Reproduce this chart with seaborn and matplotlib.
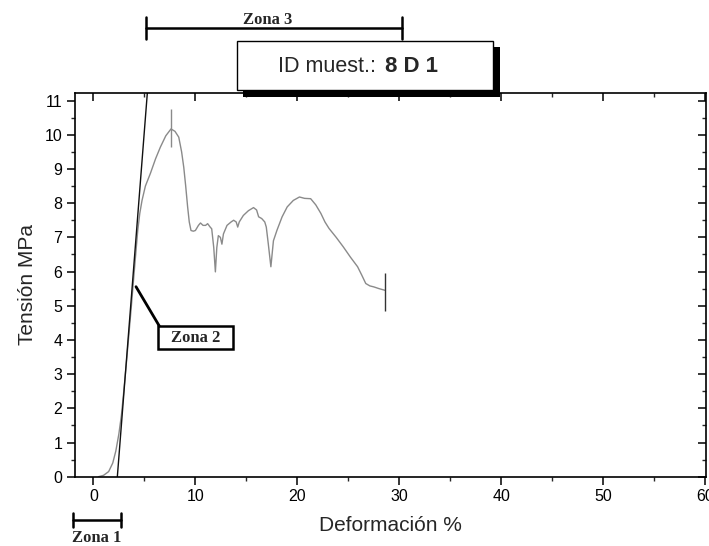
import matplotlib

matplotlib.use("Agg")
import matplotlib.pyplot as plt
import matplotlib.transforms as mtransforms
from matplotlib.patches import Rectangle
from matplotlib.ticker import MultipleLocator
import pandas as pd
import seaborn as sns

# Stress-strain curve
strain = [
    0.5, 1.0, 1.5, 1.9, 2.2, 2.5, 2.75, 2.95, 3.2, 3.45, 3.7, 3.95, 4.15, 4.35, 4.55,
    4.77, 5.1, 5.59, 6.1, 6.57, 7.1, 7.61, 8.0, 8.37, 8.65, 8.86, 9.05, 9.24, 9.4, 9.57,
    9.8, 10.0, 10.3, 10.5, 10.75, 11.0, 11.2, 11.45, 11.6, 11.8, 11.96, 12.1, 12.25,
    12.45, 12.6, 12.75, 13.1, 13.5, 13.75, 14.0, 14.15, 14.3, 14.7, 15.2, 15.7, 16.0,
    16.2, 16.5, 16.8, 16.95, 17.15, 17.4, 17.65, 18.0, 18.5, 19.0, 19.6, 20.2, 20.7,
    21.3, 21.8, 22.3, 22.7, 23.1, 23.8, 24.5, 25.2, 25.9, 26.3, 26.7, 27.1, 27.5, 28.0,
    28.6,
]
stress = [
    0.0, 0.04, 0.15, 0.4, 0.75, 1.25, 1.8, 2.4, 3.2, 4.05, 4.9, 5.8, 6.5, 7.2, 7.7,
    8.08, 8.5, 8.87, 9.3, 9.64, 9.97, 10.17, 10.1, 9.93, 9.5, 9.05, 8.5, 7.89, 7.45, 7.2,
    7.18, 7.2, 7.35, 7.42, 7.35, 7.35, 7.4, 7.3, 7.25, 6.7, 5.99, 6.7, 7.05,
    7.0, 6.8, 7.1, 7.35, 7.45, 7.5, 7.45, 7.3, 7.45, 7.64, 7.78, 7.87, 7.8,
    7.6, 7.55, 7.45, 7.3, 6.8, 6.14, 6.9, 7.21, 7.6, 7.89, 8.08, 8.18, 8.14,
    8.13, 7.95, 7.7, 7.45, 7.26, 7.0, 6.72, 6.42, 6.14, 5.9, 5.65, 5.58, 5.55, 5.5,
    5.45,
]

# Straight modulus line (zona 2)
fit_strain = [2.35, 5.35]
fit_stress = [0.0, 11.45]

# Markers: peak and rupture
peak_x, peak_y = 7.61, [9.64, 10.74]
end_x, end_y = 28.6, [4.84, 5.97]

zona1 = [-1.96, 2.69]
zona3 = [5.2, 30.3]

W, H = 709, 546

sns.set_style("ticks")
plt.rcParams["font.family"] = ["Liberation Sans", "DejaVu Sans"]

fig = plt.figure(figsize=(W / 100, H / 100), dpi=100)
ax = fig.add_axes([75 / W, 1 - 476.7 / H, (706 - 75) / W, (476.7 - 92.7) / H])

df = pd.DataFrame({"strain": strain, "stress": stress})
sns.lineplot(data=df, x="strain", y="stress", sort=False, estimator=None,
             color="#8a8a8a", linewidth=1.0, ax=ax)
sns.lineplot(x=fit_strain, y=fit_stress, sort=False, estimator=None,
             color="#111111", linewidth=1.0, ax=ax)
ax.vlines(peak_x, *peak_y, color="#8a8a8a", linewidth=1.0)
ax.vlines(end_x, *end_y, color="#333333", linewidth=1.0)

ax.set_xlim(-1.8, 60.05)
ax.set_ylim(0, 11.23)
ax.xaxis.set_major_locator(MultipleLocator(10))
ax.xaxis.set_minor_locator(MultipleLocator(5))
ax.yaxis.set_major_locator(MultipleLocator(1))
ax.yaxis.set_minor_locator(MultipleLocator(0.5))

for s in ax.spines.values():
    s.set_visible(True)
    s.set_color("black")
    s.set_linewidth(1.2)

ax.tick_params(which="major", direction="out", length=6, width=1.1, labelsize=11.5,
               pad=3, colors="black")
ax.tick_params(which="minor", direction="out", length=3, width=1.0)
ax.tick_params(which="both", top=True, right=True)
# top/right ticks point inward
for t in ax.xaxis.get_major_ticks() + ax.xaxis.get_minor_ticks():
    t.tick2line.set_marker(3)  # TICKDOWN
for t in ax.yaxis.get_major_ticks() + ax.yaxis.get_minor_ticks():
    t.tick2line.set_marker(0)  # TICKLEFT

ax.set_xlabel("Deformación %", fontsize=15)
ax.set_ylabel("Tensión MPa", fontsize=15)
ax.xaxis.set_label_coords(0.5, -0.102)
ax.yaxis.set_label_coords(-0.06, 0.5)


# annotations placed in picture pixels (top origin)
def fy(py):
    return 1 - py / H


def fx(px):
    return px / W


blend = mtransforms.blended_transform_factory(ax.transData, fig.transFigure)

# Zona 3 bracket
ax.plot(zona3, [fy(27.7)] * 2, color="black", lw=1.8, transform=blend, clip_on=False)
for xv in zona3:
    ax.plot([xv, xv], [fy(16.7), fy(39.3)], color="black", lw=1.8, transform=blend,
            clip_on=False)
fig.text(fx(268), fy(20), "Zona 3", ha="center", va="center", fontsize=12,
         fontweight="bold", family="Liberation Serif")

# Zona 1 bracket
ax.plot(zona1, [fy(520)] * 2, color="black", lw=1.8, transform=blend, clip_on=False)
for xv in zona1:
    ax.plot([xv, xv], [fy(513), fy(527)], color="black", lw=1.8, transform=blend,
            clip_on=False)
fig.text(fx(97), fy(538), "Zona 1", ha="center", va="center", fontsize=12,
         fontweight="bold", family="Liberation Serif")

# Zona 2 callout
fig.add_artist(plt.Line2D([fx(136), fx(159.3)], [fy(286.7), fy(326)], color="black",
                          lw=2.0))
fig.add_artist(Rectangle((fx(158.3), fy(349.3)), fx(232.7 - 158.3), (349.3 - 326) / H,
                         facecolor="white", edgecolor="black", lw=1.8))
fig.text(fx(195.5), fy(337.7), "Zona 2", ha="center", va="center", fontsize=12,
         fontweight="bold", family="Liberation Serif")

# sample id box with shadow
fig.add_artist(Rectangle((fx(243), fy(96.7)), fx(500 - 243), (96.7 - 46.7) / H,
                         facecolor="black", edgecolor="black", lw=0))
fig.add_artist(Rectangle((fx(237), fy(90)), fx(493 - 237), (90 - 41) / H,
                         facecolor="white", edgecolor="black", lw=1.0))
fig.text(fx(278), fy(66), "ID muest.:", ha="left", va="center", fontsize=15.5)
fig.text(fx(385), fy(66), "8 D 1", ha="left", va="center", fontsize=16,
         fontweight="bold")

fig.savefig("out.png", dpi=100, facecolor="white")
